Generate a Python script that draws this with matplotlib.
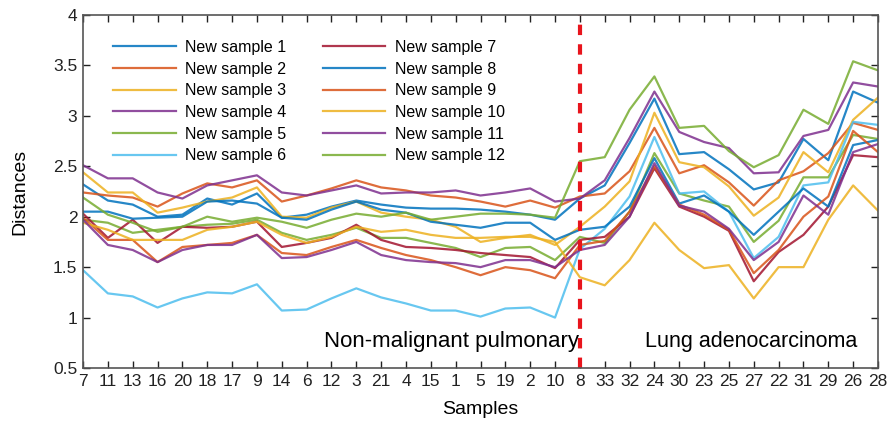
import numpy as np
import matplotlib
matplotlib.use("Agg")
import matplotlib.pyplot as plt

# 样本顺序 (x 轴标签)
samples = ['7', '11', '13', '16', '20', '18', '17', '9', '14', '6', '12', '3', '21', '4', '15',
           '1', '5', '19', '2', '10', '8', '33', '32', '24', '30', '23', '25', '27', '22', '31',
           '29', '26', '28']
split_sample = '8'

s1 = [2.32, 2.16, 2.12, 2.00, 2.02, 2.18, 2.12, 2.23, 1.99, 2.02, 2.10, 2.16, 2.12, 2.09, 2.08,
      2.08, 2.07, 2.05, 2.02, 1.97, 2.18, 2.31, 2.73, 3.17, 2.62, 2.64, 2.47, 2.27, 2.34, 2.77,
      2.56, 3.24, 3.13]
s2 = [2.24, 2.21, 2.19, 2.10, 2.23, 2.33, 2.29, 2.36, 2.15, 2.21, 2.28, 2.36, 2.29, 2.26, 2.21,
      2.19, 2.15, 2.10, 2.16, 2.09, 2.20, 2.23, 2.45, 2.88, 2.43, 2.51, 2.34, 2.11, 2.36, 2.45,
      2.63, 2.93, 2.86]
s3 = [2.44, 2.24, 2.24, 2.04, 2.09, 2.15, 2.19, 2.29, 2.00, 1.99, 2.09, 2.15, 2.04, 2.00, 1.97,
      1.90, 1.75, 1.79, 1.82, 1.72, 1.90, 2.10, 2.35, 3.03, 2.54, 2.49, 2.30, 2.01, 2.19, 2.64,
      2.44, 2.96, 3.18]
s4 = [2.51, 2.38, 2.38, 2.24, 2.18, 2.31, 2.36, 2.41, 2.24, 2.21, 2.26, 2.31, 2.23, 2.24, 2.24,
      2.26, 2.21, 2.24, 2.28, 2.15, 2.18, 2.36, 2.78, 3.24, 2.84, 2.74, 2.68, 2.43, 2.44, 2.80,
      2.86, 3.33, 3.29]
s5 = [1.97, 1.94, 1.84, 1.87, 1.90, 1.92, 1.93, 1.97, 1.84, 1.77, 1.82, 1.89, 1.79, 1.79, 1.74,
      1.69, 1.60, 1.69, 1.70, 1.57, 1.80, 1.74, 2.05, 2.63, 2.23, 2.16, 2.10, 1.75, 1.96, 2.39,
      2.39, 2.81, 2.77]
s6 = [1.47, 1.24, 1.21, 1.10, 1.19, 1.25, 1.24, 1.33, 1.07, 1.08, 1.19, 1.29, 1.20, 1.14, 1.07,
      1.07, 1.01, 1.09, 1.10, 1.00, 1.68, 1.88, 2.20, 2.79, 2.23, 2.25, 2.05, 1.59, 1.80, 2.31,
      2.34, 2.94, 2.91]
s7 = [2.03, 1.79, 1.97, 1.74, 1.90, 1.89, 1.90, 1.95, 1.70, 1.74, 1.79, 1.92, 1.77, 1.70, 1.69,
      1.67, 1.64, 1.62, 1.60, 1.49, 1.77, 1.80, 2.00, 2.48, 2.10, 2.00, 1.86, 1.36, 1.65, 1.82,
      2.10, 2.61, 2.59]
s8 = [2.05, 2.05, 1.98, 1.99, 2.00, 2.15, 2.16, 2.13, 1.99, 1.97, 2.07, 2.15, 2.07, 2.04, 1.95,
      1.92, 1.89, 1.94, 1.94, 1.77, 1.87, 1.90, 2.10, 2.58, 2.13, 2.21, 2.05, 1.82, 2.05, 2.28,
      2.10, 2.71, 2.76]
s9 = [1.99, 1.77, 1.77, 1.55, 1.70, 1.72, 1.74, 1.82, 1.64, 1.62, 1.70, 1.77, 1.69, 1.62, 1.57,
      1.50, 1.42, 1.50, 1.47, 1.39, 1.72, 1.76, 2.05, 2.50, 2.12, 2.02, 1.87, 1.44, 1.67, 2.00,
      2.20, 2.85, 2.64]
s10 = [1.94, 1.87, 1.77, 1.77, 1.77, 1.87, 1.90, 1.95, 1.82, 1.74, 1.80, 1.90, 1.85, 1.87, 1.82,
       1.79, 1.79, 1.80, 1.80, 1.75, 1.40, 1.32, 1.57, 1.94, 1.67, 1.49, 1.52, 1.19, 1.50, 1.50,
       1.97, 2.31, 2.06]
s11 = [1.97, 1.72, 1.67, 1.55, 1.67, 1.72, 1.72, 1.82, 1.59, 1.60, 1.67, 1.75, 1.62, 1.57, 1.55,
       1.54, 1.50, 1.57, 1.57, 1.50, 1.67, 1.72, 2.00, 2.53, 2.11, 2.05, 1.88, 1.57, 1.75, 2.21,
       2.02, 2.64, 2.72]
s12 = [2.19, 2.02, 1.94, 1.85, 1.90, 2.00, 1.95, 1.99, 1.95, 1.89, 1.97, 2.03, 2.00, 2.04, 1.97,
       2.00, 2.03, 2.03, 2.02, 1.99, 2.55, 2.59, 3.06, 3.39, 2.88, 2.90, 2.65, 2.49, 2.61, 3.06,
       2.92, 3.54, 3.45]

series = [s1, s2, s3, s4, s5, s6, s7, s8, s9, s10, s11, s12]
labels = ['New sample %d' % (i + 1) for i in range(12)]

# MATLAB 默认配色
colors = ['#0072BD', '#D95319', '#EDB120', '#7E2F8E', '#77AC30', '#4DBEEE', '#A2142F']

plt.rcParams['font.family'] = ['Liberation Sans', 'DejaVu Sans']

fig = plt.figure(figsize=(8.89, 4.25), dpi=100)
ax = fig.add_axes([0.0934, 0.134, 0.8942, 0.831])

x = np.arange(len(samples))
for i in range(12):
    ax.plot(x, series[i], color=colors[i % 7], lw=1.6, alpha=0.85, label=labels[i])

xs = samples.index(split_sample)
ax.axvline(xs, color='#E8141C', lw=3, ls=(0, (2.5, 2.2)))

ax.set_xlim(0, len(samples) - 1)
ax.set_ylim(0.5, 4)
ax.set_xticks(x)
ax.set_xticklabels(samples, family=['Liberation Sans Narrow', 'Liberation Sans'])
ax.set_yticks(np.arange(0.5, 4.01, 0.5))
ax.set_yticklabels(['0.5', '1', '1.5', '2', '2.5', '3', '3.5', '4'])
ax.tick_params(direction='in', top=True, right=True, length=5, width=1,
               labelsize=12.5, colors='#222222', pad=4)
for sp in ax.spines.values():
    sp.set_color('#555555')
    sp.set_linewidth(1.2)

ax.set_xlabel('Samples', fontsize=14, labelpad=9)
ax.set_ylabel('Distances', fontsize=14, labelpad=18)

ax.text(14.85, 0.76, 'Non-malignant pulmonary', fontsize=16, ha='center', va='center')
ax.text(26.9, 0.76, 'Lung adenocarcinoma', fontsize=15.5, ha='center', va='center')

ax.legend(ncol=2, loc='upper left', bbox_to_anchor=(0.02, 0.97), frameon=False,
          fontsize=11.5, handlelength=3.9, handletextpad=0.6, columnspacing=2.3,
          labelspacing=0.42)

plt.savefig('out.png', dpi=100)
